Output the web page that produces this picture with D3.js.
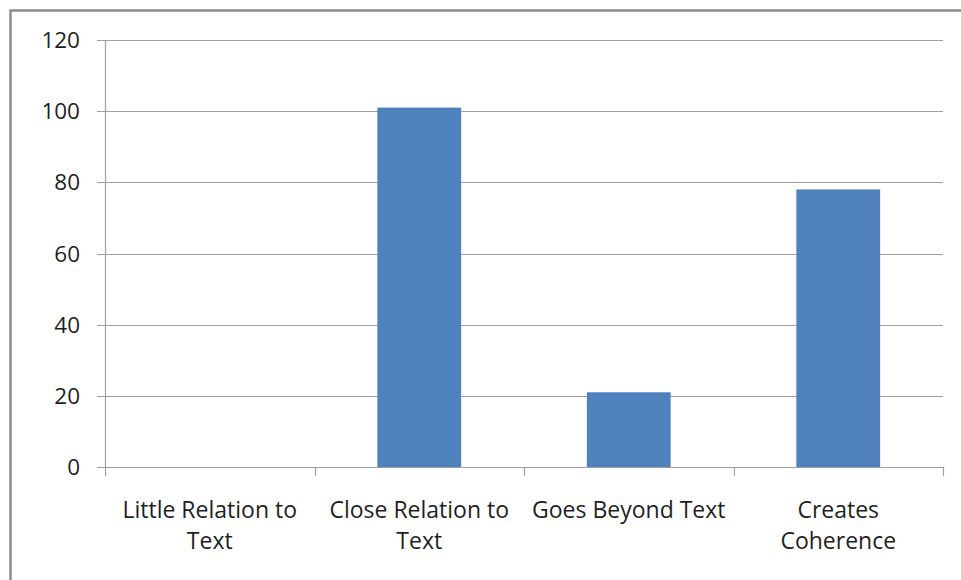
<!DOCTYPE html>
<html>
<head>
<meta charset="utf-8">
<script src="https://cdn.jsdelivr.net/npm/d3@7"></script>
<style>
  body { margin: 0; background: #fff; }
  text { font-family: "Open Sans", Lato, sans-serif; fill: #1f1f1f; }
</style>
</head>
<body>
<div id="chart"></div>
<script>
var categories = ["Little Relation to Text", "Close Relation to Text", "Goes Beyond Text", "Creates Coherence"];
var labelLines = [["Little Relation to", "Text"], ["Close Relation to", "Text"], ["Goes Beyond Text"], ["Creates", "Coherence"]];
var values = [0, 101, 21, 78];
var yTicks = [0, 20, 40, 60, 80, 100, 120];

var width = 961, height = 580;
var plotLeft = 105, plotRight = 943, plotTop = 40, plotBottom = 467;

var svg = d3.select("#chart").append("svg")
  .attr("width", width)
  .attr("height", height);

// outer frame (only top and left edges show)
svg.append("rect")
  .attr("x", 10.5).attr("y", 10.5)
  .attr("width", 1000).attr("height", 1000)
  .attr("fill", "none")
  .attr("stroke", "#8c8c8c")
  .attr("stroke-width", 2.5);

var x = d3.scaleBand().domain(categories).range([plotLeft, plotRight]);
var y = d3.scaleLinear().domain([0, 120]).range([plotBottom, plotTop]);

// gridlines
svg.append("g").selectAll("line")
  .data(yTicks)
  .enter().append("line")
  .attr("x1", plotLeft - 8).attr("x2", plotRight)
  .attr("y1", function(d) { return Math.round(y(d)) + 0.5; })
  .attr("y2", function(d) { return Math.round(y(d)) + 0.5; })
  .attr("stroke", "#a0a0a0")
  .attr("stroke-width", 1.2);

// bars, gap width 150%
var barW = x.bandwidth() / 2.5;
svg.append("g").selectAll("rect")
  .data(values)
  .enter().append("rect")
  .attr("x", function(d, i) { return x(categories[i]) + (x.bandwidth() - barW) / 2; })
  .attr("y", function(d) { return y(d); })
  .attr("width", barW)
  .attr("height", function(d) { return plotBottom - y(d); })
  .attr("fill", "#4f81bd");

// axis lines
svg.append("line")
  .attr("x1", plotLeft + 0.5).attr("x2", plotLeft + 0.5)
  .attr("y1", plotTop).attr("y2", plotBottom + 9)
  .attr("stroke", "#a0a0a0").attr("stroke-width", 1.2);

svg.append("g").selectAll("line")
  .data(categories)
  .enter().append("line")
  .attr("x1", function(d) { return Math.round(x(d) + x.step()) + 0.5; })
  .attr("x2", function(d) { return Math.round(x(d) + x.step()) + 0.5; })
  .attr("y1", plotBottom).attr("y2", plotBottom + 9)
  .attr("stroke", "#a0a0a0").attr("stroke-width", 1.2);

// y labels
svg.append("g").selectAll("text")
  .data(yTicks)
  .enter().append("text")
  .attr("x", 80)
  .attr("y", function(d) { return y(d); })
  .attr("dy", "0.36em")
  .attr("text-anchor", "end")
  .attr("font-size", 22.5)
  .text(function(d) { return d; });

// category labels
var lab = svg.append("g").selectAll("text")
  .data(categories)
  .enter().append("text")
  .attr("text-anchor", "middle")
  .attr("font-size", 23)
  .attr("x", function(d) { return x(d) + x.bandwidth() / 2; })
  .attr("y", 518);

lab.selectAll("tspan")
  .data(function(d, i) { return labelLines[i]; })
  .enter().append("tspan")
  .attr("x", function() { return this.parentNode.getAttribute("x"); })
  .attr("dy", function(d, i) { return i === 0 ? 0 : 31; })
  .text(function(d) { return d; });
</script>
</body>
</html>
